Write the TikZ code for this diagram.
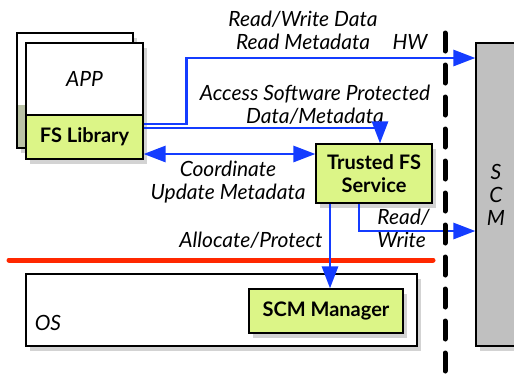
\documentclass[tikz,border=0pt]{standalone}
\usepackage{fontspec}
\setmainfont{Lato}
\usetikzlibrary{arrows.meta,positioning,shadows}
\definecolor{flowblue}{RGB}{20,60,255}
\definecolor{libgreen}{RGB}{220,245,135}
\definecolor{scmgray}{RGB}{192,192,192}
\definecolor{olivegray}{RGB}{186,194,166}
\definecolor{osred}{RGB}{255,40,0}

\begin{document}
\begin{tikzpicture}[x=0.5pt,y=-0.5pt,
  box/.style={draw,line width=0.6pt,inner sep=0pt,align=center,drop shadow={shadow xshift=2pt,shadow yshift=-2.5pt,opacity=0.35}},
  lbl/.style={font=\fontsize{10.5}{11.5}\selectfont\itshape,align=center,inner sep=0pt},
  flow/.style={draw=flowblue,line width=1.4pt,-{Triangle[length=11pt,width=8pt]}}]
\useasboundingbox (0,0) rectangle (514,376);
% boxes
\node[box,fill=white,minimum width=58pt,minimum height=57.5pt,
  path picture={\fill[olivegray] ([yshift=21.5pt]path picture bounding box.south west) rectangle (path picture bounding box.south east);}] (appback) at (75,90.5) {};
\node[box,fill=white,minimum width=58.5pt,minimum height=36pt,font=\fontsize{10.5}{11}\selectfont\itshape] (app) at (84.5,79) {APP};
\node[box,fill=libgreen,minimum width=58.5pt,minimum height=22pt,font=\fontsize{10}{11}\selectfont\bfseries] (fslib) at (84.5,137) {FS Library};
\node[box,fill=libgreen,minimum width=58pt,minimum height=29.5pt,font=\fontsize{10}{11.5}\selectfont\bfseries] (tfs) at (374,173.5) {Trusted FS\\Service};
\node[box,fill=scmgray,minimum width=20pt,minimum height=151.5pt,font=\fontsize{10.5}{11.5}\selectfont\itshape] (scm) at (496,194.5) {S\\C\\M};
\node[box,fill=white,minimum width=195.5pt,minimum height=36pt] (os) at (221.5,310) {};
\node[box,fill=libgreen,minimum width=77pt,minimum height=22pt,font=\fontsize{10}{11}\selectfont\bfseries] (scmmgr) at (326,311) {SCM Manager};
\node[lbl] (oslbl) at (48,323) {OS};
% labels
\node[lbl] (rwlbl) at (303,30.5) {Read/Write Data\\Read Metadata};
\node[lbl] (hwlbl) at (410,42) {HW};
\node[lbl] (acclbl) at (315,105) {Access Software Protected\\Data/Metadata};
\node[lbl] (coordlbl) at (228,182) {Coordinate\\Update Metadata};
\node[lbl] (alloclbl) at (251,240) {Allocate/Protect};
\node[lbl,align=left,anchor=west] (rwlbl2) at (377,228.5) {Read/\\Write};
% os border
\coordinate (osl) at (9,260);
\coordinate (osr) at (433,260);
\draw[osred,line width=2.5pt,line cap=round] (osl) -- (osr);
% flows
\draw[flow] ([yshift=6.5pt]fslib.east) -- ++(43,0) |- (scm.west |- 0,58);
\draw[flow] ([yshift=4.5pt]fslib.east) -| ([xshift=3pt]tfs.north);
\draw[flow,{Triangle[length=11pt,width=8pt]}-{Triangle[length=11pt,width=8pt]}] ([yshift=-8.5pt]fslib.east) -- ([yshift=-8.5pt]fslib.east -| tfs.west);
\draw[flow] ([xshift=-22pt]tfs.south) -- ([xshift=-22pt]tfs.south |- scmmgr.north);
\draw[flow] ([xshift=-7.5pt]tfs.south) |- (scm.west |- 0,231);
% hw border
\coordinate (hwtop) at (445,33);
\coordinate (hwbot) at (445,380);
\draw[line width=2.5pt,line cap=round,dash pattern=on 9pt off 7pt] (hwtop) -- (hwbot);
\end{tikzpicture}
\end{document}
